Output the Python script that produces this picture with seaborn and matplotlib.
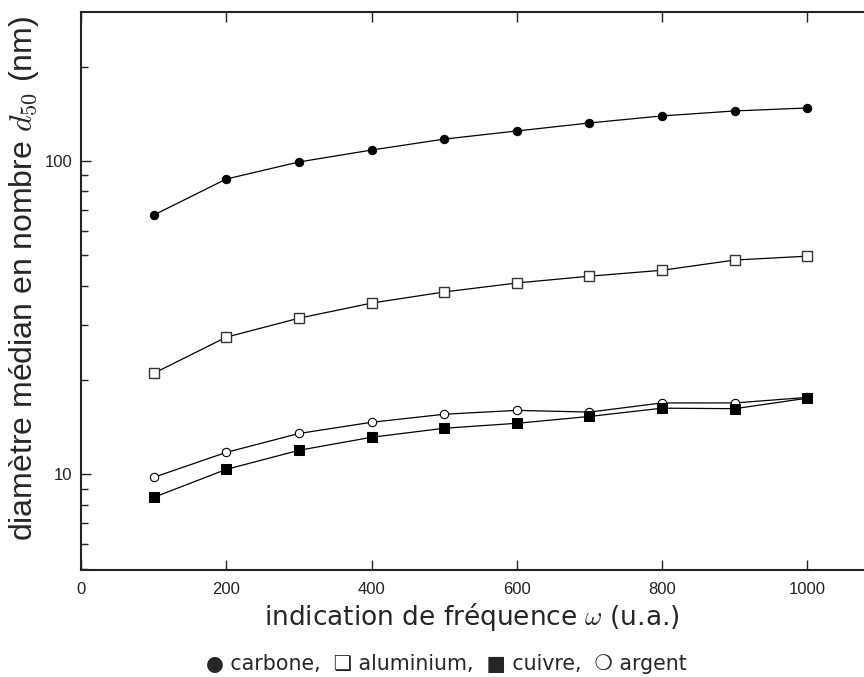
import matplotlib
matplotlib.use("Agg")
import matplotlib.pyplot as plt
import seaborn as sns
import pandas as pd
from matplotlib.ticker import FixedLocator, NullFormatter

sns.set_theme(style="white")
plt.rcParams['font.family'] = ['Liberation Sans', 'DejaVu Sans']
plt.rcParams['mathtext.fontset'] = 'cm'

freq = [100, 200, 300, 400, 500, 600, 700, 800, 900, 1000]
carbone = [67.2, 87.6, 99.3, 108.4, 117.5, 124.7, 132.3, 139.3, 144.5, 147.7]
aluminium = [21.0, 27.4, 31.5, 35.2, 38.2, 40.8, 42.9, 44.8, 48.3, 49.7]
cuivre = [8.44, 10.37, 11.93, 13.13, 14.03, 14.55, 15.3, 16.26, 16.2, 17.5]
argent = [9.78, 11.75, 13.5, 14.66, 15.55, 16.0, 15.8, 16.9, 16.9, 17.6]
xticks = [0, 200, 400, 600, 800, 1000]
yticks = [10, 100]

fig = plt.figure(figsize=(8.64, 6.77), dpi=100)
ax = fig.add_axes([81/864, 1-570/677, 1-81/864, (570-12)/677])

series = [
    (carbone, dict(marker='o', markersize=6, markerfacecolor='black', markeredgecolor='black')),
    (aluminium, dict(marker='s', markersize=6.5, markerfacecolor='white', markeredgecolor='#333333', markeredgewidth=1.0)),
    (argent, dict(marker='o', markersize=6, markerfacecolor='white', markeredgecolor='black', markeredgewidth=0.8)),
    (cuivre, dict(marker='s', markersize=6.5, markerfacecolor='black', markeredgecolor='black')),
]
for vals, kw in series:
    df = pd.DataFrame({'x': freq, 'y': vals})
    sns.lineplot(data=df, x='x', y='y', ax=ax, color='black', linewidth=0.9, **kw)

ax.set_yscale('log')
ax.set_xlim(0, 1078)
ax.set_ylim(4.95, 299)
ax.set_xticks(xticks)
ax.set_xticklabels([str(t) for t in xticks], fontsize=12, color='#222222')
ax.set_yticks(yticks)
ax.set_yticklabels([str(t) for t in yticks], fontsize=12, color='#222222')
ax.yaxis.set_minor_locator(FixedLocator([5, 6, 7, 8, 9, 20, 30, 40, 50, 60, 70, 80, 90, 200, 300]))
ax.yaxis.set_minor_formatter(NullFormatter())
ax.tick_params(axis='x', which='major', direction='in', length=7, width=1.0, color='#222222',
               bottom=True, top=True, pad=9)
ax.tick_params(axis='y', which='major', direction='in', length=7, width=1.0, color='#222222',
               left=True, right=False, pad=6)
ax.tick_params(axis='y', which='minor', direction='in', length=5, width=1.0, color='#222222',
               left=True, right=False)
for s in ['left', 'bottom', 'top']:
    ax.spines[s].set_color('#222222')
    ax.spines[s].set_linewidth(1.5)
ax.spines['right'].set_visible(False)
ax.grid(False)

ax.set_xlabel(r'indication de fréquence $\omega$ (u.a.)', fontsize=19, family='DejaVu Sans')
ax.xaxis.label.set_va('center')
ax.xaxis.set_label_coords((472 - 81) / 783, -(617 - 570) / 558)
ax.set_ylabel(r'diamètre médian en nombre $d_{50}$ (nm)', fontsize=23)
ax.yaxis.label.set_va('center')
ax.yaxis.set_label_coords((24 - 81) / 783, (570 - 279) / 558)

fig.text(446 / 864, 1 - 664 / 677, '● carbone,  ❏ aluminium,  ■ cuivre,  ❍ argent',
         ha='center', va='center', fontsize=14.8, family='DejaVu Sans')

fig.savefig('out.png', dpi=100)
